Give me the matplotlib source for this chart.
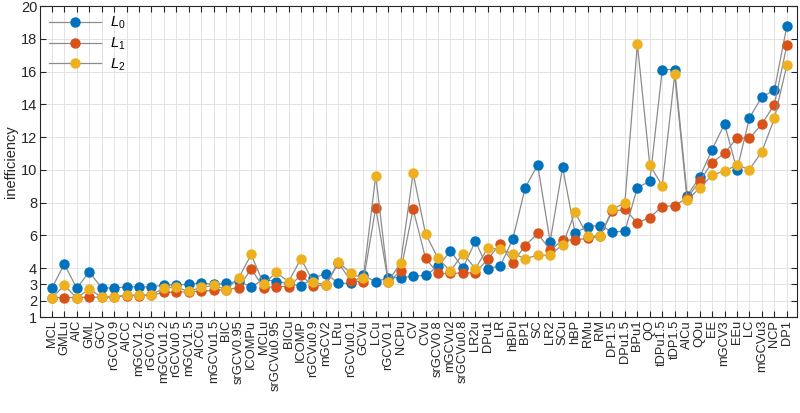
# Inefficiency of parameter choice rules, L0 / L1 / L2 norms
import numpy as np
import matplotlib.pyplot as plt

plt.rcParams['font.family'] = ['Liberation Sans', 'DejaVu Sans']
plt.rcParams['mathtext.fontset'] = 'custom'
plt.rcParams['mathtext.it'] = 'Liberation Sans:italic'
plt.rcParams['mathtext.rm'] = 'Liberation Sans'

# Method names (x axis)
methods = ["MCL", "GMLu", "AIC", "GML", "GCV", "rGCV0.9", "AICC", "mGCV1.2", "rGCV0.5",
           "mGCVu1.2", "rGCVu0.5", "mGCV1.5", "AICCu", "mGCVu1.5", "BIC", "srGCV0.95",
           "ICOMPu", "MCLu", "srGCVu0.95", "BICu", "ICOMP", "rGCVu0.9", "mGCV2", "LRu",
           "rGCVu0.1", "GCVu", "LCu", "rGCV0.1", "NCPu", "CV", "CVu", "srGCV0.8", "mGCVu2",
           "srGCVu0.8", "LR2u", "DPu1", "LR", "hBPu", "BP1", "SC", "LR2", "SCu", "hBP",
           "RMu", "RM", "DP1.5", "DPu1.5", "BPu1", "QO", "tDPu1.5", "tDP1.5", "AICu", "QOu",
           "EE", "mGCV3", "EEu", "LC", "mGCVu3", "NCP", "DP1"]

# Inefficiency values
L0 = [2.77, 4.24, 2.77, 3.77, 2.79, 2.79, 2.85, 2.85, 2.85, 2.97,
      2.97, 3.01, 3.10, 3.00, 3.06, 3.21, 2.83, 3.32, 3.18, 3.06,
      2.89, 3.40, 3.66, 3.07, 3.07, 3.56, 3.16, 3.40, 3.42, 3.50,
      3.55, 4.10, 5.05, 4.00, 5.64, 3.97, 4.14, 5.76, 8.91, 10.3,
      5.62, 10.16, 6.15, 6.54, 6.60, 6.21, 6.25, 8.92, 9.30, 16.13,
      16.13, 8.43, 9.55, 11.24, 12.81, 10.00, 13.18, 14.46, 14.87, 18.78]
L1 = [2.20, 2.20, 2.20, 2.22, 2.22, 2.24, 2.32, 2.32, 2.35, 2.51,
      2.53, 2.55, 2.58, 2.65, 2.67, 2.81, 3.95, 2.81, 2.87, 2.87,
      3.55, 2.91, 2.97, 4.32, 3.22, 3.16, 7.70, 3.16, 3.80, 7.60,
      4.60, 3.67, 3.67, 3.71, 3.71, 4.56, 5.48, 4.34, 5.37, 6.12,
      5.09, 5.70, 5.72, 5.81, 5.93, 7.48, 7.58, 6.76, 7.09, 7.76,
      7.82, 8.28, 9.31, 10.45, 11.02, 11.95, 11.92, 12.81, 13.99, 17.62]
L2 = [2.18, 2.94, 2.18, 2.71, 2.22, 2.24, 2.34, 2.34, 2.36, 2.79,
      2.83, 2.57, 2.83, 2.94, 2.69, 3.40, 4.83, 3.03, 3.73, 3.18,
      4.56, 3.14, 2.96, 4.38, 3.67, 3.37, 9.65, 3.17, 4.34, 9.80,
      6.09, 4.60, 3.81, 4.89, 3.97, 5.23, 5.14, 4.89, 4.58, 4.78,
      4.79, 5.44, 7.41, 5.97, 5.93, 7.60, 7.98, 17.70, 10.29, 9.04,
      15.83, 8.13, 8.90, 9.67, 9.94, 10.29, 10.02, 11.12, 13.14, 16.39]

colors = ["#0072BD", "#D95319", "#EDB120"]
labels = ["$L_0$", "$L_1$", "$L_2$"]
x = np.arange(len(methods))

fig = plt.figure(figsize=(8, 4.13), dpi=100)
ax = fig.add_axes([0.05, 0.232, 0.946, 0.753])

for y, c, lab in zip([L0, L1, L2], colors, labels):
    ax.plot(x, y, "-o", color="#8c8c8c", lw=0.9, marker="o", ms=6.5,
            markerfacecolor=c, markeredgecolor=c, label=lab)

ax.set_xlim(-0.95, 59.8)
ax.set_ylim(1, 20)
ax.set_xticks(x)
ax.set_xticklabels(methods, rotation=90, fontsize=9.3)
ax.set_yticks([1, 2, 3, 4, 6, 8, 10, 12, 14, 16, 18, 20])
ax.tick_params(axis="y", labelsize=10.5)
ax.tick_params(direction="in", top=True, right=True, length=4,
               color="#262626", labelcolor="#262626", pad=2)
ax.set_ylabel("inefficiency", fontsize=10.5, color="#262626", labelpad=2)
for s in ax.spines.values():
    s.set_color("#262626")
    s.set_linewidth(0.8)
ax.grid(True, color="#e3e3e3", lw=0.7)
ax.set_axisbelow(True)

ax.legend(loc="upper left", frameon=False, fontsize=10.5, handlelength=3.6,
          numpoints=1, borderaxespad=0.2, labelspacing=0.3, handletextpad=0.6)

fig.savefig("out.png", dpi=100)
